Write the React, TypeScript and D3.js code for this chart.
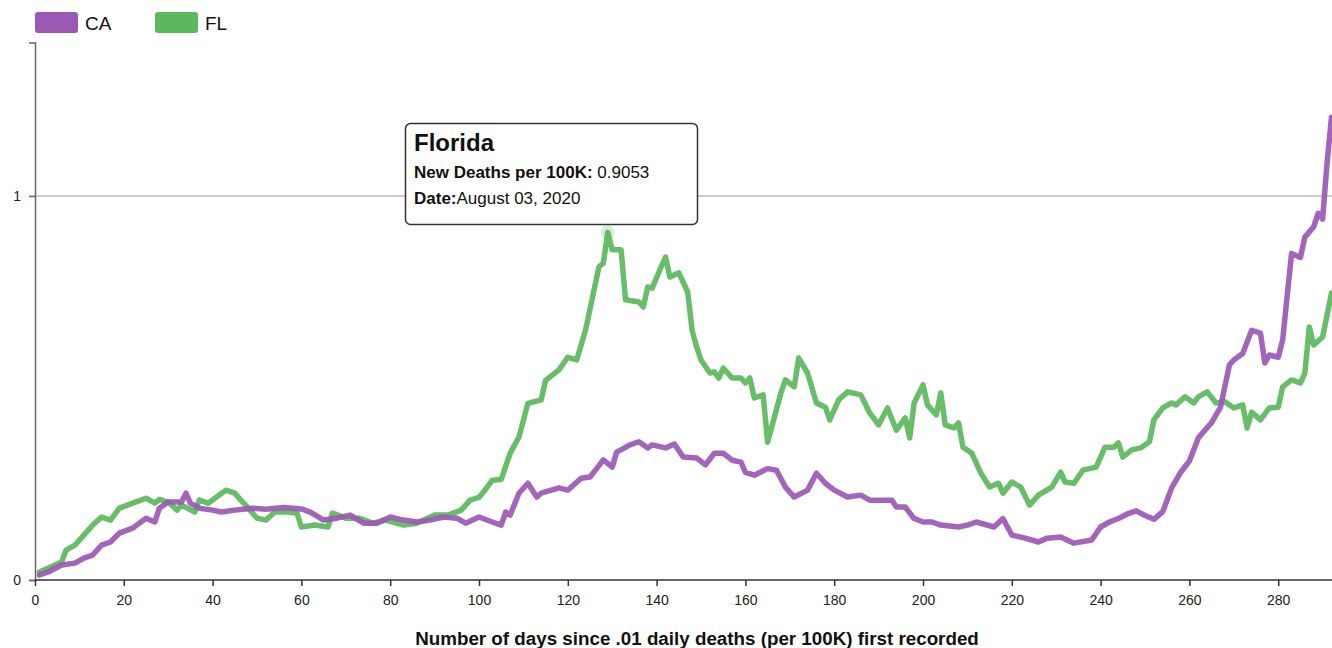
import { useEffect, useRef } from "react";
import * as d3 from "d3";

// days since .01 daily deaths per 100K
const caDays = [1, 3, 6, 9, 11, 13, 15, 17, 19, 22, 25, 27, 28, 30, 33, 34, 35, 37, 40, 42, 45, 49, 52, 56, 60, 62, 65, 68, 71, 74, 77, 80, 83, 86, 89, 92, 95, 97, 100, 103, 105, 106, 107, 109, 111, 113, 114, 118, 120, 123, 125, 128, 130, 131, 134, 136, 138, 139, 142, 144, 146, 149, 151, 153, 155, 157, 159, 160, 162, 165, 167, 169, 171, 174, 176, 178, 180, 183, 186, 188, 190, 193, 194, 196, 198, 200, 202, 204, 208, 210, 212, 216, 218, 220, 223, 226, 228, 231, 234, 238, 240, 242, 244, 246, 248, 250, 252, 254, 256, 258, 260, 262, 265, 267, 269, 270, 272, 274, 276, 277, 278, 280, 281, 283, 285, 286, 288, 289, 290, 291, 292];
const caValues = [0.013, 0.021, 0.039, 0.044, 0.057, 0.065, 0.091, 0.099, 0.122, 0.135, 0.161, 0.151, 0.187, 0.203, 0.203, 0.226, 0.2, 0.187, 0.182, 0.177, 0.182, 0.187, 0.184, 0.189, 0.185, 0.177, 0.156, 0.161, 0.169, 0.148, 0.148, 0.164, 0.156, 0.151, 0.156, 0.164, 0.161, 0.148, 0.164, 0.151, 0.143, 0.177, 0.169, 0.226, 0.252, 0.216, 0.226, 0.24, 0.234, 0.265, 0.268, 0.313, 0.294, 0.333, 0.352, 0.36, 0.344, 0.352, 0.344, 0.354, 0.32, 0.318, 0.3, 0.33, 0.33, 0.312, 0.307, 0.28, 0.273, 0.29, 0.286, 0.242, 0.216, 0.234, 0.278, 0.252, 0.234, 0.216, 0.221, 0.208, 0.208, 0.208, 0.19, 0.19, 0.16, 0.151, 0.151, 0.143, 0.138, 0.143, 0.151, 0.138, 0.16, 0.117, 0.109, 0.099, 0.109, 0.112, 0.096, 0.104, 0.138, 0.151, 0.16, 0.172, 0.18, 0.168, 0.158, 0.178, 0.24, 0.28, 0.31, 0.37, 0.41, 0.45, 0.56, 0.573, 0.59, 0.65, 0.643, 0.565, 0.586, 0.58, 0.625, 0.85, 0.84, 0.893, 0.92, 0.955, 0.94, 1.086, 1.205];

const flDays = [1, 3, 6, 7, 9, 11, 13, 15, 17, 19, 22, 25, 27, 28, 30, 32, 33, 36, 37, 39, 43, 45, 48, 50, 52, 54, 57, 59, 60, 63, 66, 67, 70, 73, 76, 79, 83, 86, 90, 93, 96, 98, 100, 101, 103, 105, 107, 109, 111, 114, 115, 118, 120, 122, 124, 127, 128, 129, 130, 132, 133, 136, 137, 138, 139, 141, 142, 143, 145, 147, 148, 149, 150, 152, 153, 154, 155, 157, 159, 160, 161, 162, 164, 165, 168, 169, 171, 172, 174, 176, 178, 179, 181, 183, 186, 188, 190, 192, 194, 196, 197, 198, 200, 201, 203, 204, 205, 207, 208, 209, 211, 213, 215, 217, 218, 220, 222, 224, 226, 229, 231, 232, 234, 236, 239, 241, 243, 244, 245, 247, 249, 251, 252, 254, 256, 257, 259, 261, 262, 264, 266, 268, 270, 272, 273, 274, 276, 278, 280, 281, 283, 285, 286, 287, 288, 290, 292];
const flValues = [0.021, 0.031, 0.047, 0.078, 0.091, 0.117, 0.143, 0.164, 0.156, 0.187, 0.2, 0.213, 0.2, 0.21, 0.203, 0.182, 0.195, 0.177, 0.208, 0.2, 0.234, 0.226, 0.187, 0.161, 0.156, 0.177, 0.177, 0.174, 0.138, 0.143, 0.138, 0.174, 0.161, 0.161, 0.148, 0.156, 0.143, 0.148, 0.169, 0.169, 0.182, 0.208, 0.215, 0.229, 0.26, 0.262, 0.33, 0.372, 0.46, 0.469, 0.52, 0.547, 0.58, 0.573, 0.651, 0.815, 0.825, 0.9053, 0.86, 0.86, 0.73, 0.724, 0.711, 0.763, 0.76, 0.815, 0.841, 0.789, 0.8, 0.75, 0.65, 0.607, 0.573, 0.539, 0.542, 0.526, 0.552, 0.526, 0.526, 0.513, 0.526, 0.474, 0.482, 0.359, 0.487, 0.521, 0.503, 0.578, 0.539, 0.461, 0.45, 0.417, 0.469, 0.49, 0.482, 0.435, 0.404, 0.448, 0.39, 0.422, 0.37, 0.461, 0.508, 0.456, 0.43, 0.487, 0.404, 0.396, 0.409, 0.346, 0.33, 0.279, 0.242, 0.252, 0.226, 0.255, 0.242, 0.195, 0.221, 0.242, 0.281, 0.255, 0.252, 0.286, 0.294, 0.346, 0.346, 0.357, 0.32, 0.339, 0.344, 0.36, 0.417, 0.448, 0.461, 0.456, 0.477, 0.461, 0.477, 0.49, 0.461, 0.464, 0.448, 0.456, 0.396, 0.437, 0.417, 0.448, 0.45, 0.503, 0.521, 0.513, 0.539, 0.659, 0.612, 0.633, 0.747];

const xTicks = [0, 20, 40, 60, 80, 100, 120, 140, 160, 180, 200, 220, 240, 260, 280];
const yTicks = [0, 1];

const legendNames = ["CA", "FL"];
const colors = ["#9b59b6", "#5cb85c"];

const FONT = "'Liberation Sans', Arial, Helvetica, sans-serif";

const App = () => {
  const ref = useRef(null);

  useEffect(() => {
    const svg = d3.select(ref.current);
    svg.selectAll("*").remove();

    const x = d3.scaleLinear().domain([0, 292]).range([35, 1331.5]);
    const y = d3.scaleLinear().domain([0, 1.4]).range([580, 42.4]);

    // gridline at 1
    svg
      .append("line")
      .attr("x1", x(0))
      .attr("x2", 1332)
      .attr("y1", y(1))
      .attr("y2", y(1))
      .attr("stroke", "#bdbdbd")
      .attr("stroke-width", 1.5);

    const yAxis = svg
      .append("g")
      .attr("transform", `translate(${x(0)},0)`)
      .call(d3.axisLeft(y).tickValues(yTicks).tickPadding(8).tickFormat(d3.format("d")));
    yAxis.attr("font-size", 14).attr("font-family", FONT);
    yAxis.selectAll("path, line").attr("stroke", "#666").attr("stroke-width", 1.5);
    yAxis.selectAll("text").attr("fill", "#222");

    const xAxis = svg
      .append("g")
      .attr("transform", `translate(0,${y(0)})`)
      .call(d3.axisBottom(x).tickValues(xTicks).tickPadding(9).tickSizeOuter(0));
    xAxis.attr("font-size", 14).attr("font-family", FONT);
    xAxis.selectAll("path, line").attr("stroke", "#333").attr("stroke-width", 1.5);
    xAxis.select(".domain").attr("d", `M${x(0)},0H1332`);
    xAxis.selectAll("text").attr("fill", "#222");

    const series = [
      { name: "FL", days: flDays, values: flValues, color: colors[1] },
      { name: "CA", days: caDays, values: caValues, color: colors[0] },
    ];

    series.forEach((s) => {
      const pts = s.days.map((d, i) => [x(d), y(s.values[i])] as [number, number]);
      svg
        .append("path")
        .attr("d", d3.line()(pts))
        .attr("fill", "none")
        .attr("stroke", s.color)
        .attr("stroke-width", 5.5)
        .attr("stroke-linejoin", "round")
        .attr("stroke-linecap", "round")
        .attr("opacity", 0.93);
    });

    // hovered point
    const flMax = d3.max(flValues) as number;
    const peak = flDays[flValues.indexOf(flMax)];
    svg
      .append("circle")
      .attr("cx", x(peak))
      .attr("cy", y(flMax))
      .attr("r", 7)
      .attr("fill", colors[1])
      .attr("opacity", 0.25);

    // x label
    svg
      .append("text")
      .attr("x", 697)
      .attr("y", 645)
      .attr("text-anchor", "middle")
      .attr("font-family", FONT)
      .attr("font-size", 18.8)
      .attr("font-weight", "bold")
      .attr("fill", "#111")
      .text("Number of days since .01 daily deaths (per 100K) first recorded");

    // legend
    const legend = svg
      .selectAll(".legend")
      .data(legendNames)
      .enter()
      .append("g")
      .attr("class", "legend")
      .attr("transform", (d, i) => `translate(${35 + i * 120},12)`);
    legend
      .append("rect")
      .attr("width", 43)
      .attr("height", 21)
      .attr("rx", 3)
      .attr("fill", (d, i) => colors[i]);
    legend
      .append("text")
      .attr("x", 50)
      .attr("y", 17.5)
      .attr("font-family", FONT)
      .attr("font-size", 19)
      .attr("fill", "#111")
      .text((d) => d);

    // tooltip
    const tip = svg.append("g").attr("transform", "translate(405,123)");
    tip
      .append("rect")
      .attr("x", 0.5)
      .attr("y", 0.5)
      .attr("width", 292)
      .attr("height", 101)
      .attr("rx", 5)
      .attr("fill", "#fff")
      .attr("stroke", "#333")
      .attr("stroke-width", 1.5);
    tip
      .append("text")
      .attr("x", 9)
      .attr("y", 28)
      .attr("font-family", FONT)
      .attr("font-size", 24)
      .attr("font-weight", "bold")
      .attr("fill", "#111")
      .text("Florida");
    const l1 = tip
      .append("text")
      .attr("x", 9)
      .attr("y", 55)
      .attr("font-family", FONT)
      .attr("font-size", 17)
      .attr("fill", "#111");
    l1.append("tspan").attr("font-weight", "bold").text("New Deaths per 100K:");
    l1.append("tspan").text(" " + d3.format(".4f")(flMax));
    const l2 = tip
      .append("text")
      .attr("x", 9)
      .attr("y", 81)
      .attr("font-family", FONT)
      .attr("font-size", 17)
      .attr("fill", "#111");
    l2.append("tspan").attr("font-weight", "bold").text("Date:");
    l2.append("tspan").text("August 03, 2020");
  }, []);

  return (
    <svg
      ref={ref}
      width={1332}
      height={648}
      style={{ position: "absolute", left: 0, top: 0, background: "#fff" }}
    />
  );
};

export default App;
